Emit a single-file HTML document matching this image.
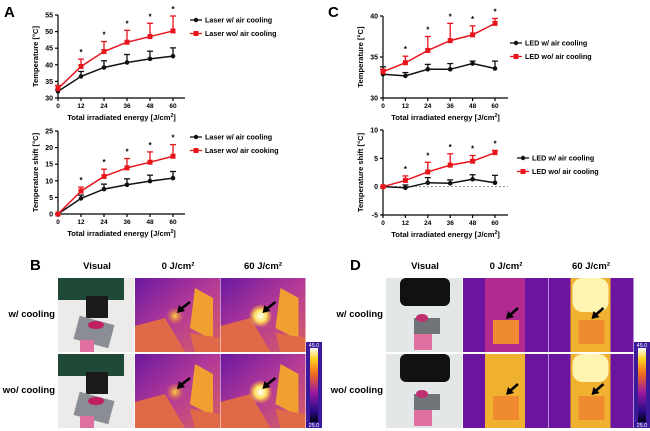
<!DOCTYPE html>
<html><head><meta charset="utf-8"><style>
html,body{margin:0;padding:0;background:#fff;}
svg{display:block;font-family:"Liberation Sans",Arial,sans-serif;}
</style></head><body>
<svg id="fig" width="650" height="431" viewBox="0 0 650 431" xmlns="http://www.w3.org/2000/svg">
<defs>
<linearGradient id="cbar" x1="0" y1="1" x2="0" y2="0">
<stop offset="0" stop-color="#000010"/><stop offset="0.15" stop-color="#2a0a8a"/><stop offset="0.4" stop-color="#9a1aa0"/><stop offset="0.65" stop-color="#f06a20"/><stop offset="0.85" stop-color="#ffd020"/><stop offset="1" stop-color="#ffffff"/>
</linearGradient>
<linearGradient id="bgL" x1="0" y1="0" x2="1" y2="1">
<stop offset="0" stop-color="#6a18a0"/><stop offset="0.5" stop-color="#b43a98"/><stop offset="1" stop-color="#d86060"/>
</linearGradient>
<radialGradient id="hot"><stop offset="0" stop-color="#ffffff"/><stop offset="0.5" stop-color="#ffe060"/><stop offset="1" stop-color="#ffb020" stop-opacity="0"/></radialGradient>
<radialGradient id="warm"><stop offset="0" stop-color="#ffd040"/><stop offset="1" stop-color="#f08020" stop-opacity="0"/></radialGradient>
</defs>
<g id="charts"></g>
<g id="panels"></g>
</svg>
<script>
const xCats=[0,12,24,36,48,60];
const aTopBlack=[32,36.5,39.2,40.7,41.8,42.6];
const aTopBlackErr=[0.5,1.5,2,2.4,2.3,2.5];
const aTopRed=[32.8,39.5,44,46.8,48.5,50.2];
const aTopRedErr=[1,2.2,3,3.6,4,4.5];
const aBotBlack=[0,4.7,7.5,8.8,9.9,10.8];
const aBotBlackErr=[0,1,1.5,1.8,1.8,2];
const aBotRed=[0,6.9,11.3,13.9,15.6,17.4];
const aBotRedErr=[0,1.2,2.2,2.8,3.1,3.5];
const cTopBlack=[32.9,32.7,33.5,33.5,34.2,33.6];
const cTopBlackErr=[0.9,0.4,0.6,0.7,0.3,0.9];
const cTopRed=[33.2,34.3,35.8,37,37.7,39.1];
const cTopRedErr=[0.3,0.8,1.7,2.1,1.1,0.6];
const cBotBlack=[0,-0.2,0.7,0.6,1.3,0.7];
const cBotBlackErr=[0,0.5,0.9,0.6,0.8,1.3];
const cBotRed=[0,1.1,2.6,3.8,4.5,6];
const cBotRedErr=[0,0.8,1.7,2,1,0.4];
const aTopTicks=[30,35,40,45,50,55];
const aBotTicks=[0,5,10,15,20,25];
const cTopTicks=[30,35,40];
const cBotTicks=[-5,0,5,10];

const NS="http://www.w3.org/2000/svg";
function mk(tag,attrs,parent,txt){const e=document.createElementNS(NS,tag);for(const k in attrs)e.setAttribute(k,attrs[k]);if(txt!==undefined)e.textContent=txt;parent.appendChild(e);return e;}
const charts=document.getElementById('charts');

function chart(cfg){
  const g=mk('g',{},charts);
  
  
  const xs=v=>cfg.x0+(v-xCats[0])/(xCats[xCats.length-1]-xCats[0])*(cfg.x1-cfg.x0);
  const ys=v=>cfg.yb+(v-cfg.ymin)/(cfg.ymax-cfg.ymin)*(cfg.yt-cfg.yb);
  const ax=mk('g',{stroke:'#000','stroke-width':1.2},g);
  
  
  mk('line',{x1:cfg.x0,y1:cfg.yt,x2:cfg.x0,y2:cfg.yb},ax);
  mk('line',{x1:cfg.x0,y1:cfg.yb,x2:cfg.xend,y2:cfg.yb},ax);
  cfg.yticks.forEach(t=>{
    mk('line',{x1:cfg.x0-3,y1:ys(t),x2:cfg.x0,y2:ys(t)},ax);
    const tl=mk('text',{x:cfg.x0-5,y:ys(t)+2.5,'font-size':7,'text-anchor':'end','font-weight':'bold',stroke:'none'},g,t);
    
    
  });
  xCats.forEach(c=>{
    mk('line',{x1:xs(c),y1:cfg.yb,x2:xs(c),y2:cfg.yb+3},ax);
    const tl=mk('text',{x:xs(c),y:cfg.yb+10,'font-size':6.5,'text-anchor':'middle','font-weight':'bold'},g,c);
    
    
  });
  if(cfg.zeroLine){const zl=mk('line',{x1:cfg.x0,y1:ys(0),x2:cfg.xend,y2:ys(0),stroke:'#888','stroke-dasharray':'2,2','stroke-width':1},g);
    }
  const xt=mk('text',{x:(cfg.x0+cfg.xend)/2,y:cfg.yb+22,'font-size':7.6,'text-anchor':'middle','font-weight':'bold'},g);
  
  
  xt.innerHTML='Total irradiated energy [J/cm<tspan dy="-3" font-size="5">2</tspan><tspan dy="3">]</tspan>';
  const yt=mk('text',{transform:`translate(${cfg.x0-20},${(cfg.yt+cfg.yb)/2}) rotate(-90)`,'font-size':7.6,'text-anchor':'middle','font-weight':'bold'},g,cfg.ytitle);
  
  
  cfg.series.forEach(s=>{
    const sg=mk('g',{},g);
    
    
    s.vals.forEach((v,i)=>{
      const x=xs(xCats[i]),y=ys(v),ye=ys(v+s.err[i]);
      mk('line',{x1:x,y1:y,x2:x,y2:ye,stroke:s.color,'stroke-width':1.3},sg);
      mk('line',{x1:x-3,y1:ye,x2:x+3,y2:ye,stroke:s.color,'stroke-width':1.3},sg);
    });
    mk('polyline',{points:s.vals.map((v,i)=>xs(xCats[i])+','+ys(v)).join(' '),fill:'none',stroke:s.color,'stroke-width':1.5},sg);
    s.vals.forEach((v,i)=>{
      if(s.sq) mk('rect',{x:xs(xCats[i])-2.5,y:ys(v)-2.5,width:5,height:5,fill:s.color},sg);
      else mk('circle',{cx:xs(xCats[i]),cy:ys(v),r:2.3,fill:s.color},sg);
    });
  });
  const red=cfg.series[1];
  red.vals.forEach((v,i)=>{ if(i===0)return;
    const st=mk('text',{x:xs(xCats[i]),y:ys(v+red.err[i])-4,'font-size':8,'text-anchor':'middle','font-weight':'bold'},g,'*');
    
    
  });
  cfg.series.forEach((s,k)=>{
    const lg=mk('g',{},g);
    
    
    const ly=cfg.ly+k*13.5;
    mk('line',{x1:cfg.lx,y1:ly,x2:cfg.lx+12,y2:ly,stroke:s.color,'stroke-width':1.3},lg);
    if(s.sq) mk('rect',{x:cfg.lx+3.5,y:ly-2.5,width:5,height:5,fill:s.color},lg);
    else mk('circle',{cx:cfg.lx+6,cy:ly,r:2.2,fill:s.color},lg);
    mk('text',{x:cfg.lx+15,y:ly+2.5,'font-size':7.2,'font-weight':'bold'},lg,s.label);
  });
}
chart({name:'chart-a-temperature',x0:58,x1:173,xend:185,yt:15,yb:98,ymin:30,ymax:55,yticks:aTopTicks,ytitle:'Temperature [°C]',lx:190,ly:20,
 series:[{name:'series-laser-with-cooling',vals:aTopBlack,err:aTopBlackErr,color:'#111',label:'Laser w/ air cooling'},{name:'series-laser-without-cooling',vals:aTopRed,err:aTopRedErr,color:'#e8141c',sq:1,label:'Laser wo/ air cooling'}]});
chart({name:'chart-a-temperature-shift',x0:58,x1:173,xend:185,yt:131,yb:214,ymin:0,ymax:25,yticks:aBotTicks,ytitle:'Temperature shift [°C]',lx:190,ly:137,
 series:[{name:'series-laser-with-cooling',vals:aBotBlack,err:aBotBlackErr,color:'#111',label:'Laser w/ air cooling'},{name:'series-laser-without-cooling',vals:aBotRed,err:aBotRedErr,color:'#e8141c',sq:1,label:'Laser wo/ air cooking'}]});
chart({name:'chart-c-temperature',x0:383,x1:495,xend:508,yt:16,yb:98,ymin:30,ymax:40,yticks:cTopTicks,ytitle:'Temperature [°C]',lx:510,ly:43,
 series:[{name:'series-led-with-cooling',vals:cTopBlack,err:cTopBlackErr,color:'#111',label:'LED w/ air cooling'},{name:'series-led-without-cooling',vals:cTopRed,err:cTopRedErr,color:'#e8141c',sq:1,label:'LED wo/ air cooling'}]});
chart({name:'chart-c-temperature-shift',x0:383,x1:495,xend:508,yt:130,yb:215,ymin:-5,ymax:10,yticks:cBotTicks,ytitle:'Temperature shift [°C]',lx:517,ly:158,zeroLine:1,
 series:[{name:'series-led-with-cooling',vals:cBotBlack,err:cBotBlackErr,color:'#111',label:'LED w/ air cooling'},{name:'series-led-without-cooling',vals:cBotRed,err:cBotRedErr,color:'#e8141c',sq:1,label:'LED wo/ air cooling'}]});

[['A',4,17],['C',328,17],['B',30,270],['D',350,270]].forEach(p=>{
  const t=mk('text',{x:p[1],y:p[2],'font-size':15,'font-weight':'bold'},charts,p[0]);
  
  
});

const panels=document.getElementById('panels');
function photoPanel(ox,kind){
  const g=mk('g',{},panels);
  
  
  const hdr=[['Visual',ox+39],['0 J/cm²',ox+120],['60 J/cm²',ox+205]];
  hdr.forEach(h=>{const t=mk('text',{x:h[1],y:269,'font-size':9.5,'font-weight':'bold','text-anchor':'middle'},g,h[0]);
    });
  [['w/ cooling',317],['wo/ cooling',393]].forEach(r=>{const t=mk('text',{x:ox-3,y:r[1],'font-size':9.5,'font-weight':'bold','text-anchor':'end'},g,r[0]);
    });
  [278,354].forEach((y,ri)=>{
    const v=mk('g',{},g);
    if(kind==='laser'){
      mk('rect',{x:ox,y:y,width:76,height:74,fill:'#ecebea'},v);
      mk('rect',{x:ox,y:y,width:66,height:22,fill:'#1f4a38'},v);
      mk('rect',{x:ox+28,y:y+18,width:22,height:22,fill:'#1a1a1a'},v);
      mk('rect',{x:ox+18,y:y+42,width:36,height:24,fill:'#8a8e94',transform:`rotate(15 ${ox+36} ${y+54})`},v);
      mk('ellipse',{cx:ox+38,cy:y+47,rx:8,ry:4,fill:'#c02060'},v);
      mk('rect',{x:ox+22,y:y+62,width:14,height:12,fill:'#e070a0'},v);
    }else{
      mk('rect',{x:ox,y:y,width:76,height:74,fill:'#e3e7e7'},v);
      mk('rect',{x:ox+14,y:y,width:50,height:28,rx:6,fill:'#111'},v);
      mk('rect',{x:ox+28,y:y+40,width:26,height:16,fill:'#707478'},v);
      mk('ellipse',{cx:ox+36,cy:y+40,rx:6,ry:4,fill:'#c03070'},v);
      mk('rect',{x:ox+28,y:y+56,width:18,height:16,fill:'#e070a0'},v);
    }
    [0,1].forEach(ci=>{
      const tx=ox+77+ci*85.5, hot=ci===1;
      const t=mk('g',{},g);
      if(kind==='laser'){
        mk('rect',{x:tx,y:y,width:85,height:74,fill:'url(#bgL)'},t);
        mk('polygon',{points:`${tx+60},${y+10} ${tx+78},${y+20} ${tx+78},${y+62} ${tx+55},${y+50}`,fill:'#f0a030'},t);
        mk('polygon',{points:`${tx},${y+48} ${tx+30},${y+40} ${tx+50},${y+74} ${tx},${y+74}`,fill:'#e06a48'},t);
        mk('polygon',{points:`${tx+55},${y+55} ${tx+85},${y+60} ${tx+85},${y+74} ${tx+60},${y+74}`,fill:'#e06a48'},t);
        mk('circle',{cx:tx+40,cy:y+38,r:hot?12:9,fill:hot?'url(#hot)':'url(#warm)'},t);
        mk('line',{x1:tx+55,y1:y+24,x2:tx+46,y2:y+31,stroke:'#000','stroke-width':2.5},t);
        mk('polygon',{points:`${tx+42},${y+35} ${tx+44},${y+27} ${tx+50},${y+33}`,fill:'#000'},t);
      }else{
        mk('rect',{x:tx,y:y,width:85,height:74,fill:'#6a14a0'},t);
        mk('rect',{x:tx+22,y:y,width:40,height:74,fill:(ri===1||hot)?'#f0b030':'#b02a90'},t);
        if(hot) mk('rect',{x:tx+24,y:y,width:36,height:ri?28:34,rx:10,fill:'#fff4b0'},t);
        mk('rect',{x:tx+30,y:y+42,width:26,height:24,fill:'#f08a30'},t);
        mk('line',{x1:tx+55,y1:y+30,x2:tx+47,y2:y+37,stroke:'#000','stroke-width':2.5},t);
        mk('polygon',{points:`${tx+43},${y+41} ${tx+45},${y+33} ${tx+51},${y+39}`,fill:'#000'},t);
      }
    });
  });
  const cb=mk('g',{},g);
  mk('rect',{x:ox+248,y:342,width:16,height:86,fill:'#3a1a9a'},cb);
  mk('rect',{x:ox+252,y:348,width:8,height:74,fill:'url(#cbar)'},cb);
  mk('text',{x:ox+256,y:347,'font-size':5.5,'text-anchor':'middle',fill:'#fff'},cb,'45.0');
  mk('text',{x:ox+256,y:427,'font-size':5.5,'text-anchor':'middle',fill:'#fff'},cb,'25.0');
}
photoPanel(58,'laser');
photoPanel(386,'led');
</script>
</body></html>
